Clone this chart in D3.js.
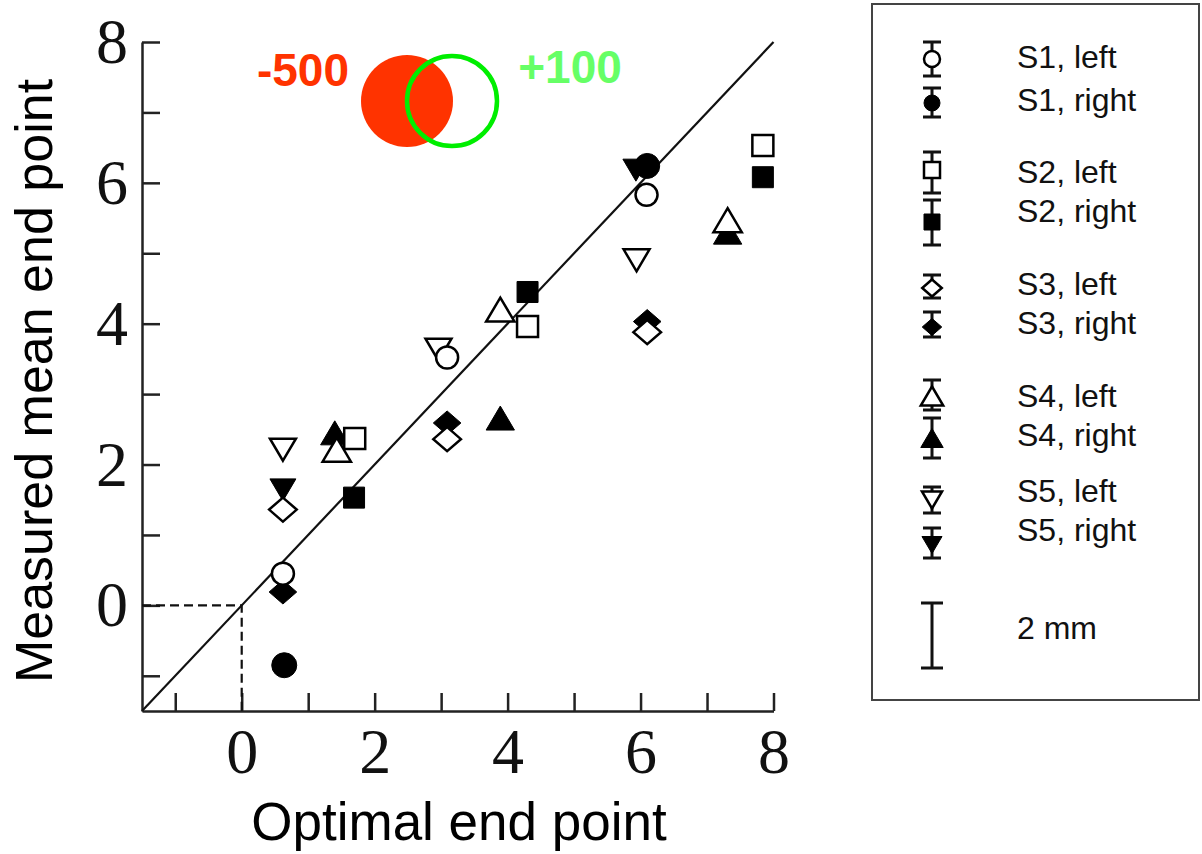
<!DOCTYPE html>
<html>
<head>
<meta charset="utf-8">
<script src="https://cdn.jsdelivr.net/npm/d3@7"></script>
<style>
  body { margin: 0; background: #fff; }
  svg { display: block; }
</style>
</head>
<body>
<svg id="chart" width="1202" height="854"></svg>
<script>
// values: [optimal end point, measured mean end point]
const s1Left  = [[0.62, 0.45], [3.09, 3.52], [6.09, 5.83]];
const s1Right = [[0.64, -0.85], [6.10, 6.24]];
const s2Left  = [[1.70, 2.37], [4.30, 3.96], [7.84, 6.53]];
const s2Right = [[1.69, 1.53], [4.30, 4.45], [7.84, 6.08]];
const s3Left  = [[0.62, 1.36], [3.09, 2.36], [6.10, 3.88]];
const s3Right = [[0.62, 0.19], [3.09, 2.59], [6.10, 4.03]];
const s4Left  = [[1.43, 2.21], [3.89, 4.20], [7.31, 5.47]];
const s4Right = [[1.40, 2.45], [3.89, 2.66], [7.31, 5.30]];
const s5Left  = [[0.62, 2.21], [2.96, 3.63], [5.94, 4.90]];
const s5Right = [[0.62, 1.64], [5.93, 6.18]];

const subjects = ["S1", "S2", "S3", "S4", "S5"];
const shapes = ["circle", "square", "diamond", "triangleUp", "triangleDown"];
const sides = ["left", "right"];
const seriesData = [[s1Left, s1Right], [s2Left, s2Right], [s3Left, s3Right],
                    [s4Left, s4Right], [s5Left, s5Right]];
const xTicks = [-1, 0, 1, 2, 3, 4, 5, 6, 7, 8];
const yTicks = [-1, 0, 1, 2, 3, 4, 5, 6, 7, 8];
const annotations = ["-500", "+100"];

const svg = d3.select("#chart");

const x = d3.scaleLinear().domain([-1.5, 8]).range([142, 773.5]);
const y = d3.scaleLinear().domain([-1.5, 8]).range([711, 42]);

function shapePath(shape, r) {
  const p = d3.path();
  if (shape == "circle") {
    p.moveTo(r, 0);
    p.arc(0, 0, r, 0, 2 * Math.PI);
  } else if (shape == "square") {
    p.rect(-r, -r, 2 * r, 2 * r);
  } else if (shape == "diamond") {
    p.moveTo(0, -r); p.lineTo(r * 1.15, 0); p.lineTo(0, r); p.lineTo(-r * 1.15, 0);
  } else if (shape == "triangleUp") {
    p.moveTo(0, -r); p.lineTo(r * 1.18, r); p.lineTo(-r * 1.18, r);
  } else {
    p.moveTo(0, r); p.lineTo(r * 1.18, -r); p.lineTo(-r * 1.18, -r);
  }
  p.closePath();
  return p.toString();
}

const plotSize = { circle: 11, square: 10.5, diamond: 12, triangleUp: 12, triangleDown: 11 };

// axes
const xAxis = svg.append("g")
  .attr("transform", "translate(0," + y(-1.5) + ")")
  .call(d3.axisBottom(x).tickValues(xTicks).tickSize(-18).tickSizeOuter(0).tickPadding(17)
    .tickFormat(d => (d >= 0 && d % 2 == 0) ? d : ""));
const yAxis = svg.append("g")
  .attr("transform", "translate(" + x(-1.5) + ",0)")
  .call(d3.axisLeft(y).tickValues(yTicks).tickSize(-18).tickSizeOuter(0).tickPadding(14)
    .tickFormat(d => (d >= 0 && d % 2 == 0) ? d : ""));

[xAxis, yAxis].forEach(g => {
  g.selectAll("path, line").attr("stroke", "#222").attr("stroke-width", 2.5);
  g.selectAll("text")
    .attr("font-family", "'Liberation Serif', 'Times New Roman', serif")
    .attr("font-size", 64)
    .attr("fill", "#111");
});

// identity line and dashed guides to the origin
svg.append("line")
  .attr("x1", x(-1.5)).attr("y1", y(-1.5))
  .attr("x2", x(8)).attr("y2", y(8))
  .attr("stroke", "#111").attr("stroke-width", 2.2);

svg.append("path")
  .attr("d", "M" + x(-1.5) + "," + y(0) + "H" + x(0) + "V" + y(-1.5))
  .attr("fill", "none").attr("stroke", "#111").attr("stroke-width", 2.2)
  .attr("stroke-dasharray", "9,5");

// markers: filled first, then open ones on top (S1 last)
const marks = svg.append("g");
[1, 0].forEach(side => {
  for (let i = subjects.length - 1; i >= 0; i--) {
    const shape = shapes[i];
    marks.selectAll(null)
      .data(seriesData[i][side])
      .join("path")
      .attr("d", shapePath(shape, side == 1 && shape == "circle" ? 12.5 : plotSize[shape]))
      .attr("transform", d => "translate(" + x(d[0]) + "," + y(d[1]) + ")")
      .attr("fill", side == 1 ? "#000" : "#fff")
      .attr("stroke", "#000")
      .attr("stroke-width", side == 1 ? 1 : 2.5);
  }
});

// annotation discs
svg.append("circle").attr("cx", 407).attr("cy", 101).attr("r", 46).attr("fill", "#ff3300");
svg.append("circle").attr("cx", 452).attr("cy", 101).attr("r", 45)
  .attr("fill", "none").attr("stroke", "#00ee00").attr("stroke-width", 4.5);
svg.append("text").attr("x", 303).attr("y", 86).attr("text-anchor", "middle")
  .attr("font-family", "'Liberation Sans', Arial, sans-serif").attr("font-weight", "bold")
  .attr("font-size", 46).attr("fill", "#ff3300").text(annotations[0]);
svg.append("text").attr("x", 570).attr("y", 83).attr("text-anchor", "middle")
  .attr("font-family", "'Liberation Sans', Arial, sans-serif").attr("font-weight", "bold")
  .attr("font-size", 46).attr("fill", "#66ff66").text(annotations[1]);

// axis titles
svg.append("text").attr("x", 459).attr("y", 840).attr("text-anchor", "middle")
  .attr("font-family", "'Liberation Sans', Arial, sans-serif").attr("font-size", 53)
  .attr("fill", "#000").text("Optimal end point");
svg.append("text").attr("transform", "translate(52,381) rotate(-90)").attr("text-anchor", "middle")
  .attr("font-family", "'Liberation Sans', Arial, sans-serif").attr("font-size", 52)
  .attr("fill", "#000").text("Measured mean end point");

// legend
svg.append("rect").attr("x", 872).attr("y", 4).attr("width", 327).attr("height", 696)
  .attr("fill", "none").attr("stroke", "#444").attr("stroke-width", 2);

// per row: text centre, marker centre, error bar top and bottom
const legendRows = [
  [57, 59, 42, 76], [100, 103, 88, 117],
  [172, 170, 152, 193], [211, 222, 200, 245],
  [284, 288, 275, 298], [323, 327, 312, 337],
  [396, 396, 380, 410], [435, 438, 418, 458],
  [491, 500, 487, 513], [530, 545, 528, 558]
];
const legendSize = { circle: 8, square: 8, diamond: 8.5, triangleUp: 9.5, triangleDown: 8.5 };
const lx = 932;
const leg = svg.append("g");
subjects.forEach((s, i) => {
  sides.forEach((side, j) => {
    const row = legendRows[i * 2 + j];
    leg.append("path")
      .attr("d", "M" + (lx - 9) + "," + row[2] + "H" + (lx + 9) + "M" + lx + "," + row[2] +
                 "V" + row[3] + "M" + (lx - 9) + "," + row[3] + "H" + (lx + 9))
      .attr("stroke", "#111").attr("stroke-width", 3).attr("fill", "none");
    leg.append("path")
      .attr("d", shapePath(shapes[i], legendSize[shapes[i]]))
      .attr("transform", "translate(" + lx + "," + row[1] + ")")
      .attr("fill", j == 1 ? "#000" : "#fff")
      .attr("stroke", "#000").attr("stroke-width", j == 1 ? 1 : 2.5);
    leg.append("text").attr("x", 1017).attr("y", row[0] + 11)
      .attr("font-family", "'Liberation Sans', Arial, sans-serif").attr("font-size", 32)
      .attr("fill", "#111").text(s + ", " + side);
  });
});
leg.append("path")
  .attr("d", "M" + (lx - 11) + ",603H" + (lx + 11) + "M" + lx + ",603V668M" + (lx - 11) + ",668H" + (lx + 11))
  .attr("stroke", "#111").attr("stroke-width", 3).attr("fill", "none");
leg.append("text").attr("x", 1017).attr("y", 639)
  .attr("font-family", "'Liberation Sans', Arial, sans-serif").attr("font-size", 32)
  .attr("fill", "#111").text("2 mm");
</script>
</body>
</html>
